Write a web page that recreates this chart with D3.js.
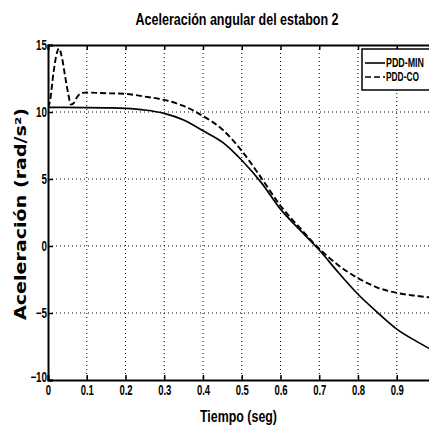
<!DOCTYPE html>
<html>
<head>
<meta charset="utf-8">
<script src="https://cdn.jsdelivr.net/npm/d3@7"></script>
<style>
  html, body { margin: 0; padding: 0; background: #fff; overflow: hidden; }
  svg { display: block; }
  .lbl { font-family: "Liberation Sans Narrow", "Arial Narrow", "Liberation Sans", Arial, sans-serif; font-weight: bold; fill: #000; }
</style>
</head>
<body>
<svg id="chart" width="429" height="428"></svg>
<script>
// Time axis (s) and angular acceleration (rad/s^2) of link 2
const tMin = [0, 0.1, 0.15, 0.2, 0.25, 0.3, 0.35, 0.4, 0.45, 0.5, 0.55, 0.6, 0.65, 0.7, 0.75, 0.8, 0.85, 0.9, 0.95, 1.0];
const accMin = [10.35, 10.33, 10.31, 10.27, 10.15, 9.9, 9.4, 8.6, 7.75, 6.4, 4.75, 2.75, 1.2, -0.3, -2.0, -3.6, -4.95, -6.2, -7.1, -7.9];

const tCo = [0, 0.005, 0.014, 0.022, 0.028, 0.035, 0.044, 0.052, 0.059, 0.066, 0.074, 0.087, 0.1, 0.15, 0.2, 0.25, 0.3, 0.35, 0.4, 0.45, 0.5, 0.55, 0.6, 0.65, 0.7, 0.75, 0.8, 0.85, 0.9, 0.95, 1.0];
const accCo = [10.35, 10.8, 12.9, 14.3, 14.75, 14.2, 12.7, 11.4, 10.55, 10.65, 11.07, 11.42, 11.45, 11.4, 11.35, 11.15, 10.9, 10.45, 9.7, 8.7, 7.1, 5.1, 3.0, 1.35, -0.2, -1.45, -2.4, -3.1, -3.5, -3.72, -3.88];

const xTicks = [0, 0.1, 0.2, 0.3, 0.4, 0.5, 0.6, 0.7, 0.8, 0.9, 1];
// the tick at 1 sits past the right edge of the page, so it carries no label
const xTickLabels = ["0", "0.1", "0.2", "0.3", "0.4", "0.5", "0.6", "0.7", "0.8", "0.9", ""];
const yTicks = [-10, -5, 0, 5, 10, 15];
const seriesNames = ["PDD-MIN", "PDD-CO"];

const svg = d3.select("#chart");
const pLeft = 48, pRight = 435.5, pTop = 45, pBottom = 380;

const x = d3.scaleLinear().domain([0, 1]).range([pLeft, pRight]);
const y = d3.scaleLinear().domain([-10, 15]).range([pBottom, pTop]);

svg.append("defs").append("clipPath").attr("id", "plot")
  .append("rect").attr("x", pLeft).attr("y", pTop).attr("width", pRight - pLeft).attr("height", pBottom - pTop);

// narrow-looking bold labels: squeeze the natural glyph run horizontally
function narrow(sel, k) {
  sel.each(function () {
    const w = this.getComputedTextLength();
    if (w > 0) d3.select(this).attr("textLength", w * k).attr("lengthAdjust", "spacingAndGlyphs");
  });
}

// dotted grid
const grid = svg.append("g").attr("stroke", "#000").attr("stroke-width", 1).attr("stroke-dasharray", "1,3");
grid.selectAll("line.v").data(xTicks.slice(1, -1)).join("line")
  .attr("x1", d => x(d)).attr("x2", d => x(d)).attr("y1", pTop).attr("y2", pBottom);
grid.selectAll("line.h").data(yTicks.slice(1, -1)).join("line")
  .attr("x1", pLeft).attr("x2", pRight).attr("y1", d => y(d)).attr("y2", d => y(d));

// axes with inward ticks
const xAxisB = d3.axisBottom(x).tickValues(xTicks).tickSize(-5).tickPadding(4)
  .tickFormat((d, i) => xTickLabels[i]);
const gxb = svg.append("g").attr("transform", `translate(0,${pBottom})`).call(xAxisB);
const gxt = svg.append("g").attr("transform", `translate(0,${pTop})`)
  .call(d3.axisTop(x).tickValues(xTicks).tickSize(-5).tickFormat(""));
const gyl = svg.append("g").attr("transform", `translate(${pLeft},0)`)
  .call(d3.axisLeft(y).tickValues(yTicks).tickSize(-5).tickPadding(1));
[gxb, gxt, gyl].forEach(g => {
  g.select(".domain").attr("stroke", "#000").attr("stroke-width", 2);
  g.selectAll(".tick line").attr("stroke", "#000").attr("stroke-width", 1.5);
  g.selectAll(".tick text").attr("class", "lbl").attr("font-size", 14).attr("fill", "#000");
});
gxb.selectAll(".tick text").attr("dy", "0.8em");
gyl.selectAll(".tick text").filter(d => d === -10).attr("dy", "0.1em");
narrow(gxb.selectAll(".tick text"), 0.68);
narrow(gyl.selectAll(".tick text"), 0.7);

// curves
const line = d3.line().x(d => x(d[0])).y(d => y(d[1])).curve(d3.curveMonotoneX);
const plot = svg.append("g").attr("clip-path", "url(#plot)");
plot.append("path").datum(d3.zip(tMin, accMin)).attr("d", line)
  .attr("fill", "none").attr("stroke", "#000").attr("stroke-width", 1.7);
plot.append("path").datum(d3.zip(tCo, accCo)).attr("d", line)
  .attr("fill", "none").attr("stroke", "#000").attr("stroke-width", 1.9).attr("stroke-dasharray", "6,3");

// legend
const lg = svg.append("g");
lg.append("rect").attr("x", 362).attr("y", 49).attr("width", 90).attr("height", 41)
  .attr("fill", "#fff").attr("stroke", "#000").attr("stroke-width", 1.5);
[[63, null], [77, "6,3"]].forEach(([ly, dash], i) => {
  lg.append("line").attr("x1", 365).attr("x2", 385).attr("y1", ly).attr("y2", ly)
    .attr("stroke", "#000").attr("stroke-width", 1.6).attr("stroke-dasharray", dash);
  lg.append("text").attr("class", "lbl").attr("x", 386).attr("y", ly + 4)
    .attr("font-size", 12).attr("textLength", i === 0 ? 38 : 33).attr("lengthAdjust", "spacingAndGlyphs")
    .text(seriesNames[i]);
});

// titles
svg.append("text").attr("class", "lbl").attr("x", 237).attr("y", 25)
  .attr("text-anchor", "middle").attr("font-size", 17)
  .attr("textLength", 203).attr("lengthAdjust", "spacingAndGlyphs")
  .text("Aceleración angular del estabon 2");
svg.append("text").attr("class", "lbl").attr("x", 238.5).attr("y", 422)
  .attr("text-anchor", "middle").attr("font-size", 17)
  .attr("textLength", 77).attr("lengthAdjust", "spacingAndGlyphs")
  .text("Tiempo (seg)");
svg.append("text").attr("transform", "translate(26,214) rotate(-90)")
  .attr("text-anchor", "middle").attr("font-family", "'DejaVu Sans', sans-serif")
  .attr("font-weight", "bold").attr("font-size", 15)
  .attr("textLength", 212).attr("lengthAdjust", "spacingAndGlyphs")
  .text("Aceleración (rad/s²)");
</script>
</body>
</html>
